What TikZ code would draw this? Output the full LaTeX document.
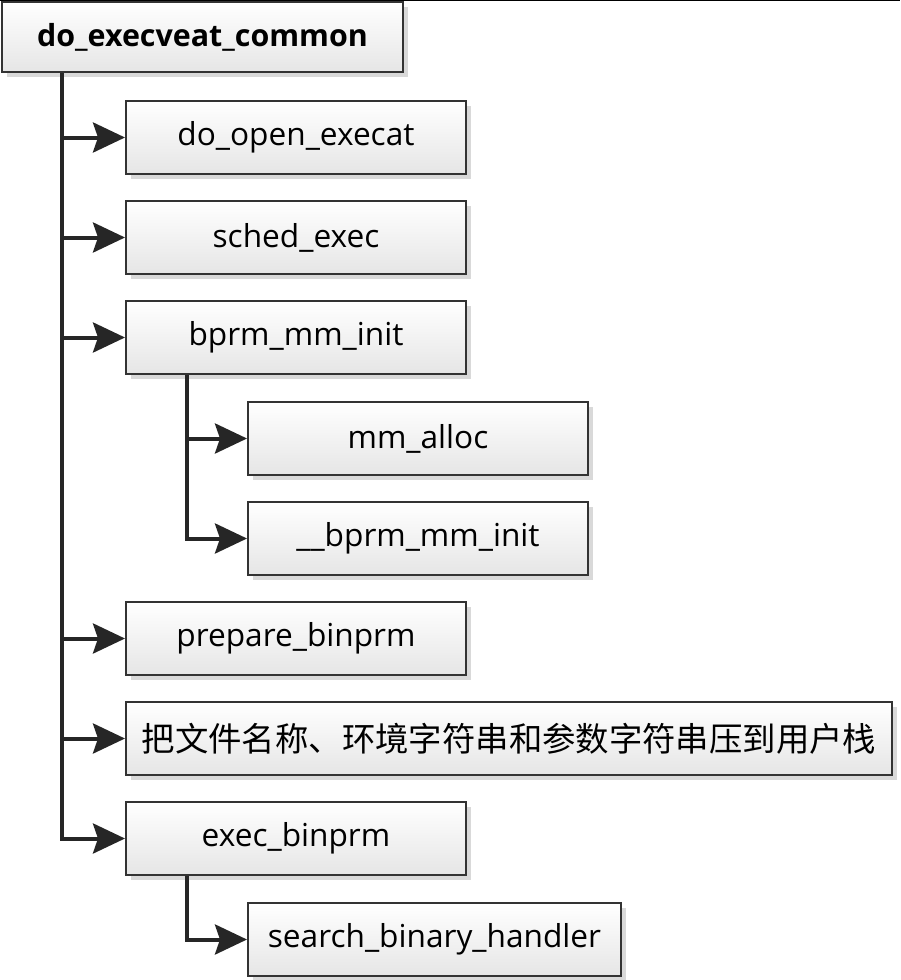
\documentclass[tikz,border=0pt]{standalone}
\usepackage{fontspec}
\setmainfont{Open Sans}
\newfontfamily\cjk{Noto Sans CJK SC}
\usepackage{tikz}
\usetikzlibrary{arrows.meta,positioning,shadows}

\begin{document}
\begin{tikzpicture}[
        >={Stealth[length=0.64cm,width=0.6cm,inset=0.1cm]},
        node distance=0.5cm,
        every node/.style={font=\fontsize{18}{21}\selectfont, align=center},
        fnbox/.style={draw=black!80, line width=0.04cm, top color=white, bottom color=black!10,
            minimum height=1.46cm, minimum width=6.8cm, inner sep=2pt,
            drop shadow={shadow xshift=0.1cm, shadow yshift=-0.1cm, fill=black!15, opacity=1}},
        link/.style={->, line width=0.08cm, draw=black!85}
    ]
        \useasboundingbox (0,0) rectangle (18,-19.6);
        \draw[line width=0.03cm] (0,-0.01) -- (18,-0.01);

        \node[fnbox, anchor=north west, minimum width=8.02cm, minimum height=1.4cm, font=\fontsize{17.3}{20}\selectfont\bfseries] (root) at (0.02,-0.02) {do\_execveat\_common};

        \node[fnbox, below right=0.54cm and 2.48cm of root.south west] (open) {do\_open\_execat};
        \node[fnbox, below=of open] (sched) {sched\_exec};
        \node[fnbox, below=of sched] (bprm) {bprm\_mm\_init};
        \node[fnbox, below right=0.52cm and 2.44cm of bprm.south west] (mmalloc) {mm\_alloc};
        \node[fnbox, below=of mmalloc] (bminit) {\_\_bprm\_mm\_init};
        \node[fnbox, below=4.52cm of bprm] (prepare) {prepare\_binprm};
        \node[fnbox, below right=0.5cm and 0cm of prepare.south west, minimum width=15.32cm, font=\fontsize{19}{22}\selectfont\cjk] (pushstk) {把文件名称、环境字符串和参数字符串压到用户栈};
        \node[fnbox, below right=0.5cm and 0cm of pushstk.south west] (execb) {exec\_binprm};
        \node[fnbox, below right=0.52cm and 2.44cm of execb.south west, minimum width=7.46cm] (search) {search\_binary\_handler};

        \coordinate (t1) at ([xshift=1.22cm]root.south west);
        \coordinate (t2) at ([xshift=1.24cm]bprm.south west);
        \coordinate (t3) at ([xshift=1.24cm]execb.south west);

        \draw[link] (t1) |- (execb.west);
        \draw[link] (t1 |- open.west) -- (open.west);
        \draw[link] (t1 |- sched.west) -- (sched.west);
        \draw[link] (t1 |- bprm.west) -- (bprm.west);
        \draw[link] (t1 |- prepare.west) -- (prepare.west);
        \draw[link] (t1 |- pushstk.west) -- (pushstk.west);

        \draw[link] (t2) |- (bminit.west);
        \draw[link] (t2 |- mmalloc.west) -- (mmalloc.west);

        \draw[link] (t3) |- (search.west);
    \end{tikzpicture}
\end{document}
